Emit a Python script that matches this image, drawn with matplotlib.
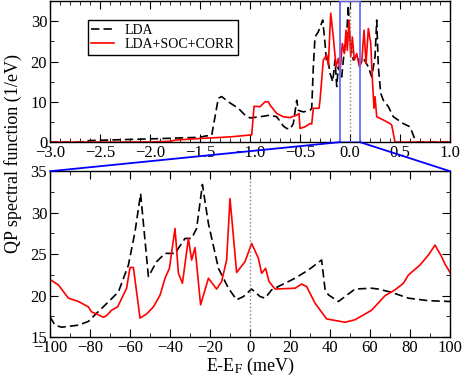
import matplotlib
matplotlib.use("Agg")
import matplotlib.pyplot as plt
from matplotlib.patches import Rectangle, ConnectionPatch
from matplotlib.ticker import MultipleLocator

plt.rcParams['font.family'] = ['Liberation Serif', 'DejaVu Serif']
plt.rcParams['mathtext.fontset'] = 'stix'

# --- top panel: wide energy range (eV) ---
lda_e = [-3.0, -2.7, -2.6, -2.0, -1.5, -1.45, -1.383, -1.317, -1.283, -1.217, -1.117,
         -1.05, -1.0, -0.9, -0.8, -0.733, -0.667, -0.633, -0.6, -0.567, -0.533, -0.517,
         -0.467, -0.4, -0.383, -0.367, -0.35, -0.317, -0.273, -0.25, -0.233, -0.217,
         -0.2, -0.173, -0.15, -0.133, -0.117, -0.083, -0.067, -0.033, -0.017, 0.0,
         0.033, 0.067, 0.1, 0.133, 0.183, 0.217, 0.25, 0.267, 0.283, 0.307, 0.333,
         0.383, 0.433, 0.533, 0.6, 0.633, 0.66, 1.0]
lda_v = [0.0, 0.0, 0.4, 0.8, 1.2, 1.5, 1.7, 10.9, 11.3, 10.0, 8.4,
         6.7, 6.0, 6.3, 6.7, 6.3, 4.0, 3.4, 3.2, 4.6, 10.4, 7.9,
         7.5, 7.9, 8.4, 18.7, 26.1, 27.4, 30.3, 24.5, 19.5, 19.9,
         17.1, 15.0, 20.4, 13.8, 18.7, 16.2, 20.4, 27.0, 34.0, 24.5,
         20.4, 21.6, 19.5, 20.8, 18.7, 16.2, 21.2, 30.3, 18.7, 12.1, 10.4,
         8.8, 6.3, 4.6, 3.8, 1.7, 0.0, 0.0]

corr_e = [-3.0, -2.3, -2.0, -1.8, -1.75, -1.5, -1.2, -0.983, -0.96, -0.9, -0.85,
          -0.817, -0.8, -0.733, -0.667, -0.6, -0.533, -0.51, -0.5, -0.45, -0.4,
          -0.383, -0.367, -0.31, -0.3, -0.267, -0.233, -0.217, -0.193, -0.167, -0.14,
          -0.117, -0.1, -0.077, -0.057, -0.04, -0.027, -0.01, 0.007, 0.023, 0.043,
          0.067, 0.093, 0.117, 0.14, 0.16, 0.183, 0.207, 0.227, 0.24, 0.25, 0.267,
          0.333, 0.4, 0.417, 0.45, 1.0]
corr_v = [0.0, 0.0, 0.05, 0.2, 0.5, 0.9, 1.3, 1.8, 8.9, 8.8, 10.0,
          10.0, 9.2, 7.1, 6.3, 6.1, 6.7, 7.1, 3.4, 3.8, 4.6,
          4.5, 8.4, 8.4, 10.4, 20.4, 21.6, 19.1, 32.0, 26.1, 18.7,
          20.8, 17.4, 24.5, 22.0, 27.8, 22.8, 30.3, 21.2, 26.1, 20.4,
          22.0, 18.7, 19.9, 27.8, 19.5, 28.2, 24.5, 13.8, 8.4, 11.3, 6.3,
          5.5, 4.6, 4.2, 0.0, 0.0]

# --- bottom panel: zoom around E_F (meV) ---
lda_z_e = [-100, -97.5, -94.2, -85.8, -80.8, -77.5, -72.5, -65.8, -60.8, -57.5, -54.7,
           -50.8, -46.7, -42.5, -37.5, -32.5, -29.2, -26.7, -23.8, -20.8, -15.8, -10.8,
           -6.7, -3.3, 0.8, 5, 7.5, 10.8, 15.8, 22.5, 29.2, 35.8, 37.5, 39.2, 44.2,
           52.5, 60.8, 64.2, 70.8, 79.2, 89.2, 100]
lda_z_v = [17.45, 16.45, 16.2, 16.45, 16.9, 17.7, 18.86, 20.45, 23.7, 27.7, 32.3,
           22.3, 24.1, 25.1, 25.1, 26.9, 26.9, 28.1, 33.4, 28.7, 23.3, 20.9,
           19.5, 19.9, 20.8, 19.9, 19.7, 20.7, 21.3, 22.1, 23.1, 24.3, 20.8, 20.1, 19.3,
           20.8, 20.9, 20.8, 20.4, 19.7, 19.4, 19.3]

corr_z_e = [-100, -95.8, -90.8, -85.8, -80.8, -79.2, -75, -73.3, -71.7, -69.2, -66.2,
            -61.7, -60, -58.3, -55, -51.7, -48.3, -45, -42.5, -40.3, -37.5, -35.8,
            -33.8, -30.8, -29.2, -27.5, -24.7, -20.8, -16.7, -14.2, -11.7, -10, -6.7,
            -2.5, 0.8, 4.2, 5.8, 7.8, 9.5, 12.5, 22.5, 25.8, 28.3, 32.5, 38.3, 47.5,
            52.5, 60.8, 67.5, 72.5, 76.7, 79.2, 85, 89.2, 92.5, 95.8, 97.5, 100]
corr_z_v = [21.95, 21.3, 19.7, 19.3, 18.65, 18.05, 17.6, 17.4, 17.6, 18.25, 18.65,
            20.9, 23.4, 23.4, 17.3, 17.8, 18.65, 20.06, 22.1, 23.3, 28.1, 22.7,
            21.5, 26.9, 24.3, 25.8, 18.9, 22.1, 20.8, 21.7, 24.3, 31.7, 22.8,
            24.1, 26.3, 24.5, 22.7, 23.3, 21.7, 20.8, 20.9, 21.4, 21.1, 19.1, 17.2, 16.8,
            17.1, 18.25, 20.0, 20.7, 21.5, 22.5, 23.7, 24.9, 26.1, 24.7, 23.8, 22.8]

fig = plt.figure(figsize=(4.63, 3.78), dpi=100)
ax1 = fig.add_axes([0.108, 0.624, 0.864, 0.373])
ax2 = fig.add_axes([0.108, 0.108, 0.864, 0.439])

dash = (0, (5, 2.5))
ax1.plot(lda_e, lda_v, color='black', linestyle=dash, lw=1.2, label='LDA')
ax1.plot(corr_e, corr_v, color='red', lw=1.2, label='LDA+SOC+CORR')
ax1.axvline(0, color='gray', linestyle=':', lw=1)
ax1.add_patch(Rectangle((-0.1, 0), 0.2, 35, fill=False, edgecolor='#6a6aff', lw=1.3, zorder=3))
ax1.set_xlim(-3, 1)
ax1.set_ylim(0, 35)
ax1.xaxis.set_major_locator(MultipleLocator(0.5))
ax1.xaxis.set_minor_locator(MultipleLocator(0.1))
ax1.yaxis.set_major_locator(MultipleLocator(10))
ax1.yaxis.set_minor_locator(MultipleLocator(5))
ax1.legend(loc='upper left', bbox_to_anchor=(0.095, 0.865), fontsize=10, fancybox=False,
           edgecolor='black', framealpha=1, borderpad=0.25, labelspacing=0.1,
           handlelength=1.6, handletextpad=0.8, borderaxespad=0)

ax2.plot(lda_z_e, lda_z_v, color='black', linestyle=dash, lw=1.2)
ax2.plot(corr_z_e, corr_z_v, color='red', lw=1.2)
ax2.axvline(0, color='gray', linestyle=':', lw=1)
ax2.set_xlim(-100, 100)
ax2.set_ylim(15, 35)
ax2.xaxis.set_major_locator(MultipleLocator(20))
ax2.xaxis.set_minor_locator(MultipleLocator(10))
ax2.yaxis.set_major_locator(MultipleLocator(5))
ax2.yaxis.set_minor_locator(MultipleLocator(2.5))
ax2.set_xlabel('E-E$_\\mathrm{F}$ (meV)', fontsize=13, labelpad=0)

for ax in (ax1, ax2):
    ax.tick_params(which='both', direction='in', top=True, right=True, labelsize=12, pad=2)
    ax.tick_params(which='major', length=6)
    ax.tick_params(which='minor', length=3)
    for s in ax.spines.values():
        s.set_linewidth(1)

# zoom connectors
for xa, xb in ((-0.1, -100), (0.1, 100)):
    con = ConnectionPatch(xyA=(xa, 0), coordsA=ax1.transData,
                          xyB=(xb, 35), coordsB=ax2.transData,
                          color='blue', lw=1.3)
    fig.add_artist(con)

fig.text(0.028, 0.595, 'QP spectral function (1/eV)', rotation=90,
         ha='center', va='center', fontsize=13)

fig.savefig('out.png', dpi=100)
